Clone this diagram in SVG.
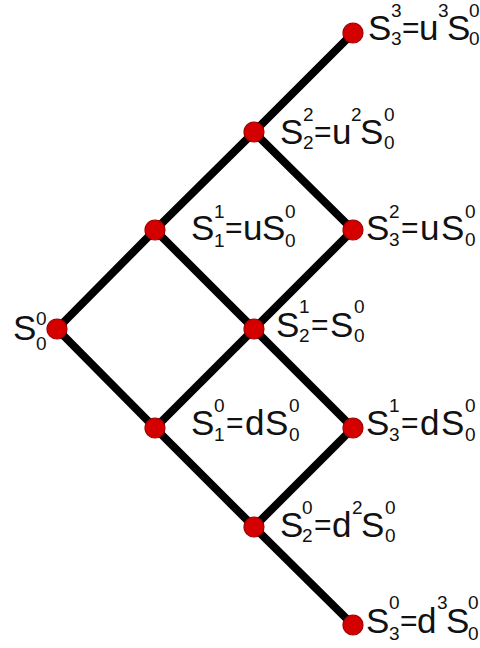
<svg xmlns="http://www.w3.org/2000/svg" width="480" height="648" viewBox="0 0 480 648">
<style>
.e{stroke:#000;stroke-width:8;stroke-linecap:round}
.n{fill:#d40000;stroke:#a00000;stroke-width:1.2}
text{font-family:"Liberation Sans",Arial,sans-serif;fill:#111}
.b{font-size:35px}
.q{font-size:30px}
.s{font-size:19px}
</style>
<rect width="480" height="648" fill="#fff"/>
<g id="connectors">
<line class="e" x1="57" y1="329" x2="155" y2="230"/>
<line class="e" x1="57" y1="329" x2="155" y2="428"/>
<line class="e" x1="155" y1="230" x2="254" y2="132"/>
<line class="e" x1="155" y1="230" x2="254" y2="329"/>
<line class="e" x1="155" y1="428" x2="254" y2="329"/>
<line class="e" x1="155" y1="428" x2="254" y2="527"/>
<line class="e" x1="254" y1="132" x2="353" y2="33"/>
<line class="e" x1="254" y1="132" x2="353" y2="230"/>
<line class="e" x1="254" y1="329" x2="353" y2="230"/>
<line class="e" x1="254" y1="329" x2="353" y2="428"/>
<line class="e" x1="254" y1="527" x2="353" y2="428"/>
<line class="e" x1="254" y1="527" x2="353" y2="625"/>
</g>
<g id="n00"><circle class="n" cx="57" cy="329" r="10"/>
<text><tspan class="b" x="13" y="340">S</tspan><tspan class="s" x="36" y="325">0</tspan><tspan class="s" x="36" y="350">0</tspan></text></g>
<g id="n11"><circle class="n" cx="155" cy="230" r="10"/>
<text><tspan class="b" x="191" y="240">S</tspan><tspan class="s" x="214" y="218">1</tspan><tspan class="s" x="214" y="247">1</tspan><tspan class="q" x="225" y="238">=</tspan><tspan class="b" x="243" y="240">u</tspan><tspan class="b" x="262" y="240">S</tspan><tspan class="s" x="285" y="218">0</tspan><tspan class="s" x="285" y="247">0</tspan></text></g>
<g id="n10"><circle class="n" cx="155" cy="428" r="10"/>
<text><tspan class="b" x="191" y="435">S</tspan><tspan class="s" x="214" y="412">0</tspan><tspan class="s" x="214" y="441">1</tspan><tspan class="q" x="226" y="433">=</tspan><tspan class="b" x="245" y="435">d</tspan><tspan class="b" x="265" y="435">S</tspan><tspan class="s" x="289" y="412">0</tspan><tspan class="s" x="289" y="441">0</tspan></text></g>
<g id="n22"><circle class="n" cx="254" cy="132" r="10"/>
<text><tspan class="b" x="280" y="144">S</tspan><tspan class="s" x="303" y="121">2</tspan><tspan class="s" x="303" y="149">2</tspan><tspan class="q" x="314" y="142">=</tspan><tspan class="b" x="332" y="144">u</tspan><tspan class="s" x="351" y="121">2</tspan><tspan class="b" x="360" y="144">S</tspan><tspan class="s" x="384" y="121">0</tspan><tspan class="s" x="384" y="149">0</tspan></text></g>
<g id="n21"><circle class="n" cx="254" cy="329" r="10"/>
<text><tspan class="b" x="276" y="337">S</tspan><tspan class="s" x="299" y="313">1</tspan><tspan class="s" x="299" y="342">2</tspan><tspan class="q" x="311" y="335">=</tspan><tspan class="b" x="330" y="337">S</tspan><tspan class="s" x="354" y="313">0</tspan><tspan class="s" x="354" y="342">0</tspan></text></g>
<g id="n20"><circle class="n" cx="254" cy="527" r="10"/>
<text><tspan class="b" x="280" y="537">S</tspan><tspan class="s" x="302" y="514">0</tspan><tspan class="s" x="302" y="542">2</tspan><tspan class="q" x="314" y="535">=</tspan><tspan class="b" x="332" y="537">d</tspan><tspan class="s" x="352" y="514">2</tspan><tspan class="b" x="361" y="537">S</tspan><tspan class="s" x="385" y="514">0</tspan><tspan class="s" x="385" y="542">0</tspan></text></g>
<g id="n33"><circle class="n" cx="353" cy="33" r="10"/>
<text><tspan class="b" x="368" y="40">S</tspan><tspan class="s" x="391" y="17">3</tspan><tspan class="s" x="391" y="45">3</tspan><tspan class="q" x="402" y="38">=</tspan><tspan class="b" x="419" y="40">u</tspan><tspan class="s" x="438" y="17">3</tspan><tspan class="b" x="447" y="40">S</tspan><tspan class="s" x="469" y="17">0</tspan><tspan class="s" x="469" y="45">0</tspan></text></g>
<g id="n32"><circle class="n" cx="353" cy="230" r="10"/>
<text><tspan class="b" x="366" y="240">S</tspan><tspan class="s" x="389" y="218">2</tspan><tspan class="s" x="389" y="246">3</tspan><tspan class="q" x="401" y="238">=</tspan><tspan class="b" x="420" y="240">u</tspan><tspan class="b" x="441" y="240">S</tspan><tspan class="s" x="465" y="218">0</tspan><tspan class="s" x="465" y="246">0</tspan></text></g>
<g id="n31"><circle class="n" cx="353" cy="428" r="10"/>
<text><tspan class="b" x="366" y="435">S</tspan><tspan class="s" x="389" y="412">1</tspan><tspan class="s" x="389" y="441">3</tspan><tspan class="q" x="401" y="433">=</tspan><tspan class="b" x="420" y="435">d</tspan><tspan class="b" x="441" y="435">S</tspan><tspan class="s" x="465" y="412">0</tspan><tspan class="s" x="465" y="441">0</tspan></text></g>
<g id="n30"><circle class="n" cx="353" cy="625" r="10"/>
<text><tspan class="b" x="366" y="633">S</tspan><tspan class="s" x="389" y="609">0</tspan><tspan class="s" x="389" y="640">3</tspan><tspan class="q" x="400" y="631">=</tspan><tspan class="b" x="417" y="633">d</tspan><tspan class="s" x="437" y="609">3</tspan><tspan class="b" x="446" y="633">S</tspan><tspan class="s" x="468" y="609">0</tspan><tspan class="s" x="468" y="640">0</tspan></text></g>
</svg>
